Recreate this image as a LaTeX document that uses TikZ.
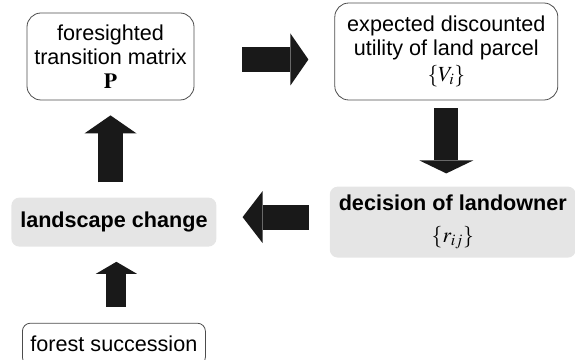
\documentclass[tikz,border=0pt]{standalone}
\usepackage{mathptmx}
\usepackage[no-math]{fontspec}
\setmainfont{Liberation Sans}
\usetikzlibrary{positioning, arrows.meta}

\tikzset{
    block/.style = {draw=black!70, line width=0.8pt, rounded corners=14pt, align=center, inner sep=0pt},
    shaded/.style = {fill=black!10, rounded corners=8pt, align=center, inner sep=0pt},
    fat arrow/.style = {draw=black!90, line width=#1},
}

\begin{document}
\begin{tikzpicture}
        [
            x=1pt, y=1pt, node distance=100pt,
            every node/.style = {font=\fontsize{21.6}{24}\selectfont}
        ]%
        \useasboundingbox (0,0) rectangle (575,359);
        \clip (0,0) rectangle (575,359);
        \node[block, minimum width=167pt, minimum height=87pt] (matrix) at (110.5,302.5)
            {foresighted\\transition matrix\\$\mathbf{P}$};
        \node[block, minimum width=223pt, minimum height=97pt, right = 140pt of matrix, yshift=5pt] (utility)
            {expected discounted\\utility of land parcel\\[2pt]$\{V_i\}$};
        \node[shaded, minimum width=246pt, minimum height=71pt, below = 86pt of utility, xshift=6.5pt] (decision)
            {\textbf{decision of landowner}\\[8pt]$\{r_{ij}\}$};
        \node[shaded, minimum width=205pt, minimum height=49pt, left = 113pt of decision] (landscape)
            {\textbf{landscape change}};
        \node[block, rounded corners=8pt, minimum width=183pt, minimum height=42pt, below = 76pt of landscape] (forest)
            {forest succession};
        % block arrows between the boxes
        \coordinate (a1) at ([yshift=-3pt]matrix.east);
        \coordinate (a3) at ([yshift=5pt]decision.west);
        \draw[fat arrow=25pt, -{Triangle[length=18pt, width=52pt, line width=0pt]}, shorten <=48pt, shorten >=26pt]
            (a1) -- (a1 -| utility.west);
        \draw[fat arrow=24pt, -{Triangle[length=13pt, width=54pt, line width=0pt]}, shorten <=8pt, shorten >=13pt]
            (utility.south) -- (utility.south |- decision.north);
        \draw[fat arrow=25pt, -{Triangle[length=20pt, width=52pt, line width=0pt]}, shorten <=21pt, shorten >=26pt]
            (a3) -- (a3 -| landscape.east);
        \draw[fat arrow=25pt, -{Triangle[length=18pt, width=52pt, line width=0pt]}, shorten <=15pt, shorten >=15pt]
            (matrix.south |- landscape.north) -- (matrix.south);
        \draw[fat arrow=20pt, -{Triangle[length=12pt, width=41pt, line width=0pt]}, shorten <=16pt, shorten >=15pt]
            ([xshift=2.5pt]forest.north) -- ([xshift=2.5pt]forest.north |- landscape.south);
        \end{tikzpicture}
\end{document}
